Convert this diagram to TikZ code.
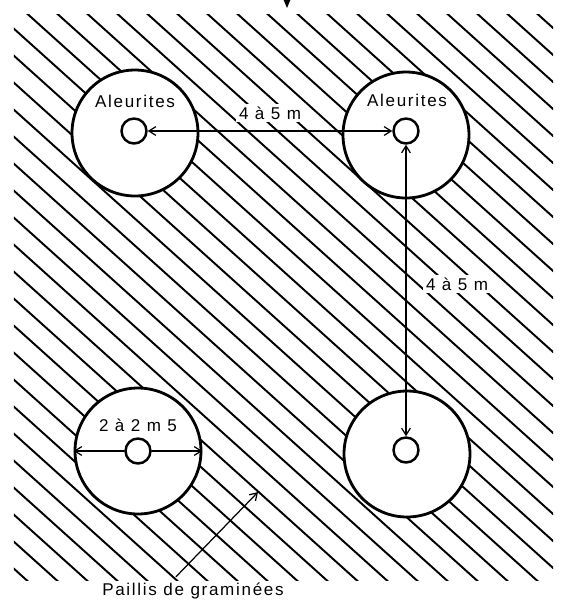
\documentclass[tikz,border=0pt]{standalone}
\usepackage{fontspec}
\setmainfont{Liberation Sans}[LetterSpace=10]
\usetikzlibrary{arrows.meta}

\begin{document}
\begin{tikzpicture}[x=0.02cm,y=-0.02cm,line cap=round,line join=round,
  font=\fontsize{9.7}{11}\selectfont,
  ring/.style={circle,draw,fill=white,line width=1.6pt,minimum size=2.52cm,inner sep=0pt},
  hole/.style={circle,draw,fill=white,line width=1.4pt,minimum size=0.5cm,inner sep=0pt},
  hatchline/.style={line width=1.1pt},
  barb/.tip={Straight Barb[length=4pt,width=5pt]},
  dimline/.style={line width=0.7pt,barb-barb},
  pointer/.style={line width=0.7pt,-barb},
  lab/.style={fill=white,inner sep=1.5pt}]
\useasboundingbox (0,0) rectangle (562,603);
% paillis
\begin{scope}
\clip (14,14) rectangle (553,580);
\foreach \c in {-648,-618,...,560}
  \draw[hatchline] (\c,0) -- ++(700,630);
\end{scope}
% cuvettes
\node[ring] (ringA) at (135,133) {};
\node[ring] (ringB) at (406,135) {};
\node[ring] (ringC) at (138,451) {};
\node[ring] (ringD) at (407,454) {};
\node[hole] (holeA) at (134,131) {};
\node[hole] (holeB) at (406,131) {};
\node[hole] (holeC) at (138,451) {};
\node[hole] (holeD) at (406,450) {};
\node (nameA) at (135,101) {Aleurites};
\node (nameB) at (407,100) {Aleurites};
% cotes
\draw[dimline] (holeA.east) -- (holeB.west);
\draw[dimline] (holeB.south) -- (holeD.north);
\draw[pointer] (holeC.west) -- (ringC.west);
\draw[pointer] (holeC.east) -- (ringC.east);
\node[lab] (rowgap) at (270,113) {4 à 5 m};
\node[lab] (colgap) at (457,284) {4 à 5 m};
\node (width) at (138,425) {2 à 2 m 5};
% legende
\node (paillis) at (193,591) {Paillis de graminées};
\coordinate (mulch) at (258,492);
\draw[pointer] ([xshift=-0.34cm]paillis.north) -- (mulch);
\coordinate (north) at (287,-4);
\coordinate (northtip) at (287,8);
\draw[line width=0.7pt,-{Stealth[length=6pt,width=5pt]}] (north) -- (northtip);
\end{tikzpicture}
\end{document}
